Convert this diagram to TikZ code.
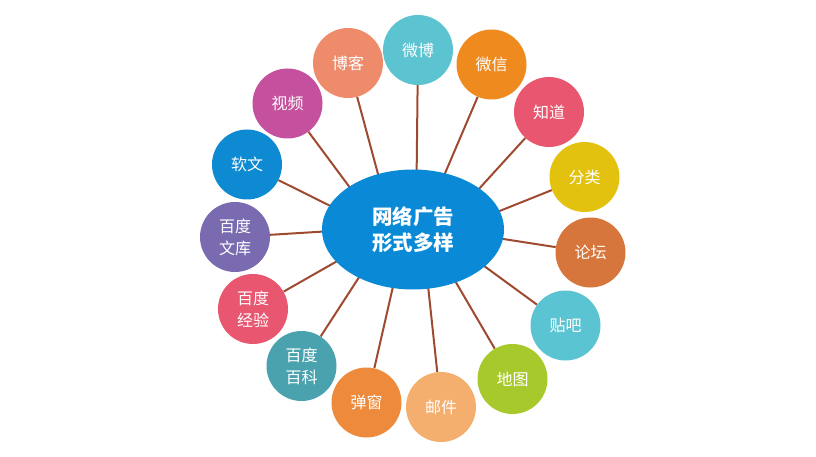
\documentclass[tikz,border=0pt]{standalone}
\usepackage{fontspec}
\newfontfamily\cjk{Noto Sans CJK SC}
\usetikzlibrary{shapes.geometric,backgrounds}
\definecolor{cWeibo}{HTML}{5CC3D1}
\definecolor{cBoke}{HTML}{EE8B6A}
\definecolor{cWeixin}{HTML}{EF8A1F}
\definecolor{cShipin}{HTML}{C5509E}
\definecolor{cZhidao}{HTML}{E8566F}
\definecolor{cRuanwen}{HTML}{0E8AD3}
\definecolor{cFenlei}{HTML}{E3C20F}
\definecolor{cWenku}{HTML}{7A6BB0}
\definecolor{cLuntan}{HTML}{D7763C}
\definecolor{cJingyan}{HTML}{E8566F}
\definecolor{cTieba}{HTML}{5BC4D2}
\definecolor{cBaike}{HTML}{4AA2AE}
\definecolor{cDitu}{HTML}{A8C92B}
\definecolor{cTanchuang}{HTML}{EE8A3C}
\definecolor{cYoujian}{HTML}{F4AE6D}
\definecolor{cCenter}{HTML}{0A8AD6}
\definecolor{cLink}{HTML}{9E4A30}
\tikzset{
  topic/.style={circle,fill=#1,minimum size=70pt,inner sep=0pt,text=white,align=center,
    font=\cjk\fontsize{16}{22}\selectfont},
  hub/.style={ellipse,fill=cCenter,minimum width=182pt,minimum height=120pt,inner sep=0pt,
    text=white,align=center,font=\cjk\bfseries\fontsize{20.5}{26}\selectfont},
  link/.style={draw=cLink,line width=2pt}
}
\begin{document}
\begin{tikzpicture}[x=1pt,y=-1pt]
\useasboundingbox (0,0) rectangle (816,457);
\node[hub] (hub) at (413,229.5) {网络广告\\形式多样};
\foreach \n/\x/\y/\c/\t/\tx/\ty in {
  weibo/418/50/cWeibo/{微博}/416/229.5,
  boke/348/63/cBoke/{博客}/393/229.5,
  weixin/491.5/64.5/cWeixin/{微信}/421/229.5,
  shipin/287.5/103.5/cShipin/{视频}/381/229.5,
  zhidao/549/112/cZhidao/{知道}/442/229.5,
  ruanwen/247/164.5/cRuanwen/{软文}/413/247,
  fenlei/584.5/177/cFenlei/{分类}/413/245.7,
  wenku/235/237/cWenku/{百度\\文库}/413/226,
  luntan/590.5/252.5/cLuntan/{论坛}/413/225,
  jingyan/253/309/cJingyan/{百度\\经验}/413/218,
  tieba/565.5/325.5/cTieba/{贴吧}/413/214,
  baike/301.5/366/cBaike/{百度\\百科}/390/229.5,
  ditu/512.5/379/cDitu/{地图}/425/229.5,
  tanchuang/366.5/402.5/cTanchuang/{弹窗}/406/229.5,
  youjian/441/407/cYoujian/{邮件}/422/229.5}{
  \node[topic=\c] (\n) at (\x,\y) {\t};
  \coordinate (\n-end) at (\tx,\ty);
  \begin{pgfonlayer}{background}
    \draw[link] (\n) -- (\n-end);
  \end{pgfonlayer}
}
\end{tikzpicture}
\end{document}
